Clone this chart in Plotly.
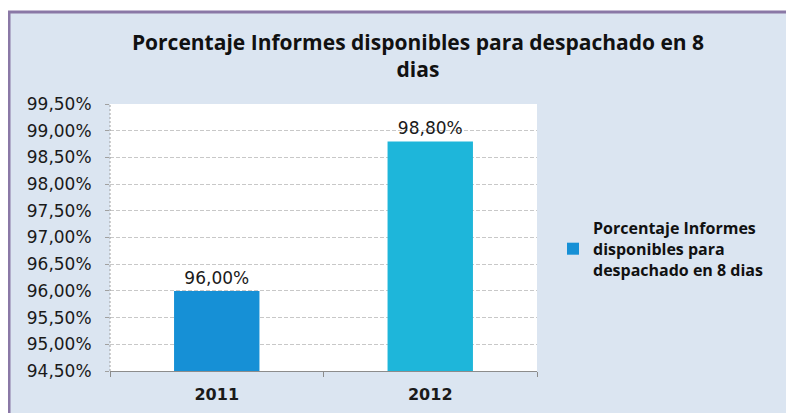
import plotly.graph_objects as go

categories = ["2011", "2012"]
values = [0.96, 0.988]
bar_colors = ["#1690d6", "#1eb6da"]
series_name = "Porcentaje Informes<br>disponibles para<br>despachado en 8 dias"
title_text = "Porcentaje Informes disponibles para despachado en 8<br>dias"
y_ticks = [0.945, 0.95, 0.955, 0.96, 0.965, 0.97, 0.975, 0.98, 0.985, 0.99, 0.995]

OFF = 8  # default page body margin
W, H = 794 - OFF, 413 - OFF
# target pixel positions in the 794x413 window
PL, PR, PT, PB = 110, 537, 104, 371
L, T = PL - OFF, PT - OFF
R = W - (PR - OFF)
B = H - (PB - OFF)
pw, ph = W - L - R, H - T - B

def px_x(p):
    return (p - OFF - L) / pw

def px_y(p):
    return (H - B - (p - OFF)) / ph

fig = go.Figure()
fig.add_trace(go.Bar(
    x=categories, y=values, name=series_name,
    width=0.4,
    marker=dict(color=bar_colors, line=dict(width=0)),
    texttemplate="%{y:.2%}", textposition="outside",
    textfont=dict(family="DejaVu Sans", size=17, color="#1a1a1a"),
    cliponaxis=False,
    showlegend=True,
))

fig.update_layout(
    width=W, height=H,
    margin=dict(l=L, r=R, t=T, b=B, autoexpand=False),
    separators=",.",
    paper_bgcolor="white",
    plot_bgcolor="white",
    title=dict(text=title_text, x=(418 - OFF) / W, xanchor="center",
               y=1 - (50 - OFF) / H, yanchor="top",
               font=dict(family="Open Sans", size=21, color="#111111", weight="bold")),
    showlegend=True,
    legend=dict(x=px_x(553), y=px_y(249), xanchor="left", yanchor="middle",
                bgcolor="rgba(0,0,0,0)",
                font=dict(family="Open Sans", size=16, color="#111111", weight="bold"),
                itemsizing="constant", itemwidth=30),
    xaxis=dict(showline=True, linecolor="#8c8c8c", linewidth=1, automargin=False,
               ticks="outside", tickson="boundaries", ticklen=5, tickcolor="#8c8c8c",
               ticklabelstandoff=9,
               tickfont=dict(family="DejaVu Sans", size=16, color="#1a1a1a", weight="bold"),
               showgrid=False),
    yaxis=dict(range=[0.945, 0.995], tickvals=y_ticks, tickformat=".2%",
               showline=False, automargin=False,
               ticks="outside", ticklen=4, tickcolor="#a0a0a0",
               ticklabelstandoff=10,
               showgrid=True, gridcolor="#c8c8c8", griddash="4px,2px", gridwidth=1,
               tickfont=dict(family="DejaVu Sans", size=17, color="#1a1a1a"),
               zeroline=False),
    shapes=[
        dict(type="rect", xref="paper", yref="paper", layer="below",
             x0=px_x(9), x1=px_x(830), y0=px_y(440), y1=px_y(12),
             fillcolor="#dbe5f1", line=dict(color="#8a78a6", width=3)),
        dict(type="rect", xref="paper", yref="paper", layer="below",
             x0=0, x1=1, y0=0, y1=1, fillcolor="white", line=dict(width=0)),
        dict(type="line", xref="paper", yref="paper", layer="above",
             x0=0, x1=0, y0=0, y1=1, line=dict(color="#a0a0a0", width=1, dash="2px,2px")),
    ],
)

fig.write_html("out.html")
